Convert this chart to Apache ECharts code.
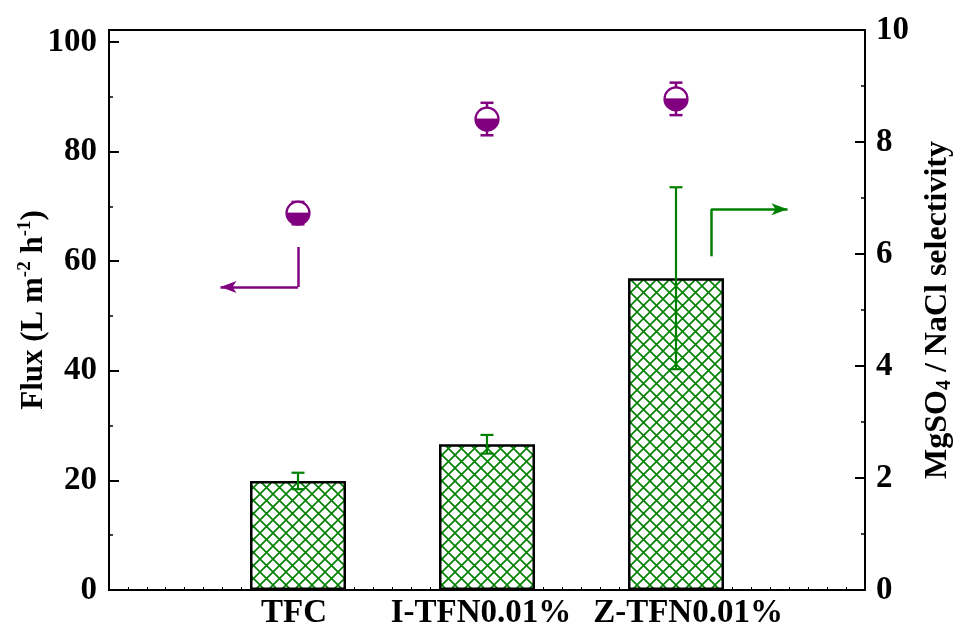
<!DOCTYPE html>
<html>
<head>
<meta charset="utf-8">
<script src="https://cdn.jsdelivr.net/npm/echarts@6/dist/echarts.min.js"></script>
<style>
html,body{margin:0;padding:0;background:#fff;}
#c{width:964px;height:635px;}
</style>
</head>
<body>
<div id="c"></div>
<script>
// ---- data ----
const categories = ['TFC', 'I-TFN0.01%', 'Z-TFN0.01%'];
const catPos = [1, 2, 3];
const flux = [19.9, 26.6, 56.9];
const fluxErr = [1.5, 1.7, 16.6];
const selectivity = [6.73, 8.41, 8.77];
const selErr = [0.2, 0.29, 0.29];
const leftTicks = [0, 20, 40, 60, 80, 100];
const rightTicks = [0, 2, 4, 6, 8, 10];
// annotation arrows (data coords on the left axis)
const purpleArrow = [[1, 62.6], [1, 55.3], [0.59, 55.3]];
const greenArrow = [[3.186, 60.9], [3.186, 69.5], [3.59, 69.5]];

const GREEN = '#008000';
const PURPLE = '#800080';
const FONT = 'Liberation Serif';

// crosshatch pattern
function hatch() {
  const s = 13;
  const cv = document.createElement('canvas');
  cv.width = s; cv.height = s;
  const g = cv.getContext('2d');
  g.fillStyle = '#fff';
  g.fillRect(0, 0, s, s);
  g.strokeStyle = GREEN;
  g.lineWidth = 1.6;
  g.beginPath();
  g.moveTo(-1, -1); g.lineTo(s + 1, s + 1);
  g.moveTo(s + 1, -1); g.lineTo(-1, s + 1);
  g.stroke();
  return cv;
}

const chart = echarts.init(document.getElementById('c'), null, {renderer: 'canvas'});

const barData = catPos.map((x, i) => [x, flux[i]]);
const barErrData = catPos.map((x, i) => [x, flux[i], fluxErr[i]]);
const selData = catPos.map((x, i) => [x, selectivity[i], selErr[i]]);

function mlSeg(a, b, arrow) {
  return [{coord: a, symbol: 'none'}, {coord: b, symbol: arrow ? 'arrow' : 'none'}];
}

const catStyle = {fontFamily: FONT, fontWeight: 'bold', fontSize: 33, color: '#000'};

const option = {
  animation: false,
  backgroundColor: '#fff',
  grid: {left: 109, right: 99, top: 30, bottom: 45, show: true, borderColor: '#000', borderWidth: 2,
         backgroundColor: 'transparent', containLabel: false, outerBoundsMode: 'none'},
  xAxis: {
    type: 'value', min: 0, max: 4, interval: 1,
    axisLine: {show: true, lineStyle: {color: '#000', width: 2}},
    axisTick: {show: true, inside: true, length: 4, lineStyle: {color: '#000', width: 1}},
    minorTick: {show: true, splitNumber: 10, length: 3, lineStyle: {color: '#000', width: 1}},
    splitLine: {show: false},
    axisLabel: {
      fontFamily: FONT, fontWeight: 'bold', fontSize: 33, color: '#000', margin: 7,
      formatter: v => { const i = catPos.indexOf(v); return i >= 0 ? '{c' + i + '|' + categories[i] + '}' : ''; },
      rich: {
        c0: Object.assign({padding: [0, 8, 0, 0]}, catStyle),
        c1: Object.assign({padding: [0, 12, 0, 0]}, catStyle),
        c2: Object.assign({padding: [0, 0, 0, 24]}, catStyle)
      }
    }
  },
  yAxis: [{
    type: 'value', min: 0, max: 102.2, interval: 20,
    position: 'left',
    name: '{t|Flux (L m}{s|-2}{t| h}{s|-1}{t|)}',
    nameLocation: 'middle', nameGap: 58, nameRotate: 90, nameMoveOverlap: false,
    nameTextStyle: {
      rich: {
        t: {fontFamily: FONT, fontWeight: 'bold', fontSize: 31, color: '#000'},
        s: {fontFamily: FONT, fontWeight: 'bold', fontSize: 19, color: '#000', verticalAlign: 'top', padding: [0, 0, 16, 0]}
      }
    },
    axisLine: {show: true, lineStyle: {color: '#000', width: 2}},
    axisTick: {show: true, inside: true, length: 10, lineStyle: {color: '#000', width: 2}},
    minorTick: {show: true, splitNumber: 2, length: 4, lineStyle: {color: '#000', width: 1.5}},
    splitLine: {show: false},
    axisLabel: {
      fontFamily: FONT, fontWeight: 'bold', fontSize: 33, color: '#000', margin: 12,
      formatter: v => leftTicks.indexOf(v) >= 0 ? String(v) : ''
    }
  }, {
    type: 'value', min: 0, max: 10, interval: 2,
    position: 'right',
    name: '{t|MgSO}{s|4}{t| / NaCl selectivity}',
    nameLocation: 'middle', nameGap: 56, nameRotate: 90, nameMoveOverlap: false,
    nameTextStyle: {
      rich: {
        t: {fontFamily: FONT, fontWeight: 'bold', fontSize: 32, color: '#000'},
        s: {fontFamily: FONT, fontWeight: 'bold', fontSize: 20, color: '#000', padding: [14, 0, 0, 0]}
      }
    },
    axisLine: {show: true, lineStyle: {color: '#000', width: 2}},
    axisTick: {show: true, inside: true, length: 10, lineStyle: {color: '#000', width: 2}},
    minorTick: {show: true, splitNumber: 2, length: 4, lineStyle: {color: '#000', width: 1.5}},
    splitLine: {show: false},
    axisLabel: {
      fontFamily: FONT, fontWeight: 'bold', fontSize: 33, color: '#000', margin: 11,
      formatter: v => rightTicks.indexOf(v) >= 0 ? String(v) : ''
    }
  }],
  series: [{
    type: 'bar',
    yAxisIndex: 0,
    data: barData,
    barWidth: 96,
    itemStyle: {color: {image: hatch(), repeat: 'repeat'}, borderColor: '#000', borderWidth: 2.5},
    silent: true,
    z: 2,
    markLine: {
      silent: true, animation: false,
      label: {show: false},
      symbolSize: [9, 16],
      data: [
        mlSeg(purpleArrow[0], purpleArrow[1], false),
        mlSeg(purpleArrow[1], purpleArrow[2], true)
      ],
      lineStyle: {color: PURPLE, width: 2.5, type: 'solid'}
    }
  }, {
    type: 'line',
    yAxisIndex: 0,
    data: [],
    markLine: {
      silent: true, animation: false,
      label: {show: false},
      symbolSize: [9, 16],
      data: [
        mlSeg(greenArrow[0], greenArrow[1], false),
        mlSeg(greenArrow[1], greenArrow[2], true)
      ],
      lineStyle: {color: GREEN, width: 2.5, type: 'solid'}
    }
  }, {
    type: 'custom',
    yAxisIndex: 0,
    data: barErrData,
    z: 5,
    renderItem: (params, api) => {
      const x = api.value(0), y = api.value(1), e = api.value(2);
      const top = api.coord([x, y + e]);
      const bot = api.coord([x, y - e]);
      const hw = 6.5;
      const st = {stroke: GREEN, lineWidth: 2.2};
      return {type: 'group', children: [
        {type: 'line', shape: {x1: top[0], y1: top[1], x2: bot[0], y2: bot[1]}, style: st},
        {type: 'line', shape: {x1: top[0] - hw, y1: top[1], x2: top[0] + hw, y2: top[1]}, style: st},
        {type: 'line', shape: {x1: bot[0] - hw, y1: bot[1], x2: bot[0] + hw, y2: bot[1]}, style: st}
      ]};
    }
  }, {
    type: 'custom',
    yAxisIndex: 1,
    data: selData,
    z: 6,
    renderItem: (params, api) => {
      const x = api.value(0), y = api.value(1), e = api.value(2);
      const c = api.coord([x, y]);
      const top = api.coord([x, y + e]);
      const bot = api.coord([x, y - e]);
      const hw = 6.5, r = 11.5;
      const st = {stroke: PURPLE, lineWidth: 2.5};
      return {type: 'group', children: [
        {type: 'line', shape: {x1: top[0], y1: top[1], x2: bot[0], y2: bot[1]}, style: st},
        {type: 'line', shape: {x1: top[0] - hw, y1: top[1], x2: top[0] + hw, y2: top[1]}, style: st},
        {type: 'line', shape: {x1: bot[0] - hw, y1: bot[1], x2: bot[0] + hw, y2: bot[1]}, style: st},
        {type: 'circle', shape: {cx: c[0], cy: c[1], r: r}, style: {fill: '#fff', stroke: PURPLE, lineWidth: 2.2}},
        {type: 'sector', shape: {cx: c[0], cy: c[1], r: r, r0: 0, startAngle: 0, endAngle: Math.PI, clockwise: true}, style: {fill: PURPLE, stroke: PURPLE, lineWidth: 1}}
      ]};
    }
  }]
};
chart.setOption(option);
</script>
</body>
</html>
